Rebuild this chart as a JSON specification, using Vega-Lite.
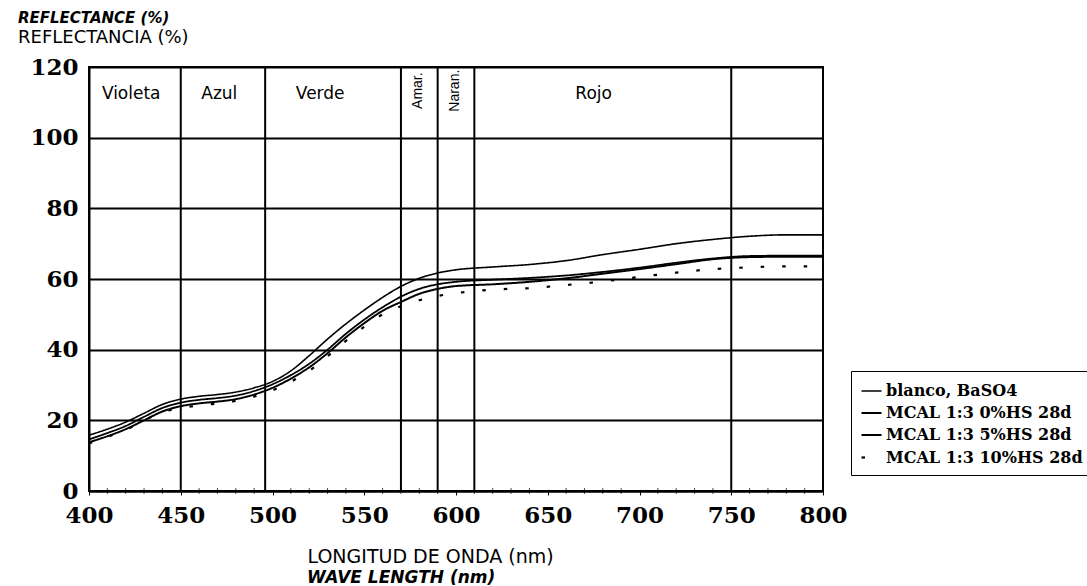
{
  "$schema": "https://vega.github.io/schema/vega-lite/v6.json",
  "width": 734,
  "height": 424,
  "autosize": {"type": "none"},
  "padding": {"left": 89, "top": 67, "right": 264, "bottom": 95},
  "background": "white",
  "title": {
    "text": "REFLECTANCE (%)",
    "subtitle": "REFLECTANCIA (%)",
    "anchor": "start",
    "frame": "group",
    "dx": -71,
    "offset": 9,
    "font": "DejaVu Sans",
    "fontSize": 15,
    "fontWeight": "bold",
    "fontStyle": "italic",
    "color": "black",
    "subtitleFont": "DejaVu Sans",
    "subtitleFontSize": 18,
    "subtitleColor": "black",
    "subtitlePadding": 3
  },
  "config": {
    "view": {"stroke": "black", "strokeWidth": 2},
    "axis": {
      "labelFont": "DejaVu Serif",
      "labelFontWeight": "bold",
      "labelFontSize": 23,
      "labelColor": "black",
      "domainColor": "black",
      "domainWidth": 2,
      "tickColor": "black",
      "gridColor": "black",
      "gridWidth": 2,
      "gridOpacity": 1
    }
  },
  "layer": [
    {
      "data": {"values": [{"nm": 450}, {"nm": 496}, {"nm": 570}, {"nm": 590}, {"nm": 610}, {"nm": 750}]},
      "mark": {"type": "rule", "color": "black", "strokeWidth": 2},
      "encoding": {
        "x": {"field": "nm", "type": "quantitative", "scale": {"domain": [400, 800]}}
      }
    },
    {
      "data": {"values": [
        {"nm": 410}, {"nm": 420}, {"nm": 430}, {"nm": 440}, {"nm": 460}, {"nm": 470}, {"nm": 480}, {"nm": 490},
        {"nm": 510}, {"nm": 520}, {"nm": 530}, {"nm": 540}, {"nm": 560}, {"nm": 570}, {"nm": 580}, {"nm": 590},
        {"nm": 610}, {"nm": 620}, {"nm": 630}, {"nm": 640}, {"nm": 660}, {"nm": 670}, {"nm": 680}, {"nm": 690},
        {"nm": 710}, {"nm": 720}, {"nm": 730}, {"nm": 740}, {"nm": 760}, {"nm": 770}, {"nm": 780}, {"nm": 790}
      ]},
      "mark": {"type": "tick", "color": "black", "orient": "vertical", "size": 6, "thickness": 1},
      "encoding": {
        "x": {"field": "nm", "type": "quantitative", "scale": {"domain": [400, 800]}},
        "y": {"datum": 0, "type": "quantitative", "scale": {"domain": [0, 120]}}
      }
    },
    {
      "data": {"values": [
        {"band": "Violeta", "nm": 423},
        {"band": "Azul", "nm": 471},
        {"band": "Verde", "nm": 526},
        {"band": "Rojo", "nm": 675}
      ]},
      "mark": {"type": "text", "font": "DejaVu Sans", "fontSize": 17, "color": "black", "baseline": "middle", "align": "center"},
      "encoding": {
        "x": {"field": "nm", "type": "quantitative", "scale": {"domain": [400, 800]}},
        "y": {"datum": 112.4, "type": "quantitative", "scale": {"domain": [0, 120]}},
        "text": {"field": "band"}
      }
    },
    {
      "data": {"values": [
        {"band": "Amar.", "nm": 579.5},
        {"band": "Naran.", "nm": 599.5}
      ]},
      "mark": {"type": "text", "font": "Liberation Sans", "fontSize": 14, "color": "black", "baseline": "middle", "align": "center", "angle": 270},
      "encoding": {
        "x": {"field": "nm", "type": "quantitative", "scale": {"domain": [400, 800]}},
        "y": {"datum": 113.3, "type": "quantitative", "scale": {"domain": [0, 120]}},
        "text": {"field": "band"}
      }
    },
    {
      "data": {"values": [
        {"series": "blanco, BaSO4", "nm": 400, "r": 15.8},
        {"series": "blanco, BaSO4", "nm": 410, "r": 17.5},
        {"series": "blanco, BaSO4", "nm": 420, "r": 19.5},
        {"series": "blanco, BaSO4", "nm": 430, "r": 22},
        {"series": "blanco, BaSO4", "nm": 440, "r": 24.5},
        {"series": "blanco, BaSO4", "nm": 450, "r": 26},
        {"series": "blanco, BaSO4", "nm": 460, "r": 26.8},
        {"series": "blanco, BaSO4", "nm": 470, "r": 27.3},
        {"series": "blanco, BaSO4", "nm": 480, "r": 28},
        {"series": "blanco, BaSO4", "nm": 490, "r": 29.2},
        {"series": "blanco, BaSO4", "nm": 500, "r": 31},
        {"series": "blanco, BaSO4", "nm": 510, "r": 34},
        {"series": "blanco, BaSO4", "nm": 520, "r": 38.3},
        {"series": "blanco, BaSO4", "nm": 530, "r": 43},
        {"series": "blanco, BaSO4", "nm": 540, "r": 47.3},
        {"series": "blanco, BaSO4", "nm": 550, "r": 51.2},
        {"series": "blanco, BaSO4", "nm": 560, "r": 54.8},
        {"series": "blanco, BaSO4", "nm": 570, "r": 57.9},
        {"series": "blanco, BaSO4", "nm": 580, "r": 60.2},
        {"series": "blanco, BaSO4", "nm": 590, "r": 61.7},
        {"series": "blanco, BaSO4", "nm": 600, "r": 62.6},
        {"series": "blanco, BaSO4", "nm": 620, "r": 63.4},
        {"series": "blanco, BaSO4", "nm": 640, "r": 64.1},
        {"series": "blanco, BaSO4", "nm": 660, "r": 65.2},
        {"series": "blanco, BaSO4", "nm": 680, "r": 66.9},
        {"series": "blanco, BaSO4", "nm": 700, "r": 68.4},
        {"series": "blanco, BaSO4", "nm": 720, "r": 70},
        {"series": "blanco, BaSO4", "nm": 740, "r": 71.2},
        {"series": "blanco, BaSO4", "nm": 760, "r": 72.1},
        {"series": "blanco, BaSO4", "nm": 780, "r": 72.5},
        {"series": "blanco, BaSO4", "nm": 800, "r": 72.5},
        {"series": "MCAL 1:3 0%HS 28d", "nm": 400, "r": 14.6},
        {"series": "MCAL 1:3 0%HS 28d", "nm": 410, "r": 16.4},
        {"series": "MCAL 1:3 0%HS 28d", "nm": 420, "r": 18.4},
        {"series": "MCAL 1:3 0%HS 28d", "nm": 430, "r": 21},
        {"series": "MCAL 1:3 0%HS 28d", "nm": 440, "r": 23.5},
        {"series": "MCAL 1:3 0%HS 28d", "nm": 450, "r": 25},
        {"series": "MCAL 1:3 0%HS 28d", "nm": 460, "r": 25.8},
        {"series": "MCAL 1:3 0%HS 28d", "nm": 470, "r": 26.3},
        {"series": "MCAL 1:3 0%HS 28d", "nm": 480, "r": 27},
        {"series": "MCAL 1:3 0%HS 28d", "nm": 490, "r": 28.3},
        {"series": "MCAL 1:3 0%HS 28d", "nm": 500, "r": 30.2},
        {"series": "MCAL 1:3 0%HS 28d", "nm": 510, "r": 32.8},
        {"series": "MCAL 1:3 0%HS 28d", "nm": 520, "r": 36},
        {"series": "MCAL 1:3 0%HS 28d", "nm": 530, "r": 40},
        {"series": "MCAL 1:3 0%HS 28d", "nm": 540, "r": 44.5},
        {"series": "MCAL 1:3 0%HS 28d", "nm": 550, "r": 48.5},
        {"series": "MCAL 1:3 0%HS 28d", "nm": 560, "r": 52},
        {"series": "MCAL 1:3 0%HS 28d", "nm": 570, "r": 55},
        {"series": "MCAL 1:3 0%HS 28d", "nm": 580, "r": 57.2},
        {"series": "MCAL 1:3 0%HS 28d", "nm": 590, "r": 58.5},
        {"series": "MCAL 1:3 0%HS 28d", "nm": 600, "r": 59.2},
        {"series": "MCAL 1:3 0%HS 28d", "nm": 620, "r": 59.8},
        {"series": "MCAL 1:3 0%HS 28d", "nm": 640, "r": 60.3},
        {"series": "MCAL 1:3 0%HS 28d", "nm": 660, "r": 61},
        {"series": "MCAL 1:3 0%HS 28d", "nm": 680, "r": 62},
        {"series": "MCAL 1:3 0%HS 28d", "nm": 700, "r": 63.2},
        {"series": "MCAL 1:3 0%HS 28d", "nm": 720, "r": 64.6},
        {"series": "MCAL 1:3 0%HS 28d", "nm": 740, "r": 65.8},
        {"series": "MCAL 1:3 0%HS 28d", "nm": 760, "r": 66.5},
        {"series": "MCAL 1:3 0%HS 28d", "nm": 780, "r": 66.6},
        {"series": "MCAL 1:3 0%HS 28d", "nm": 800, "r": 66.6},
        {"series": "MCAL 1:3 5%HS 28d", "nm": 400, "r": 13.8},
        {"series": "MCAL 1:3 5%HS 28d", "nm": 410, "r": 15.5},
        {"series": "MCAL 1:3 5%HS 28d", "nm": 420, "r": 17.5},
        {"series": "MCAL 1:3 5%HS 28d", "nm": 430, "r": 20},
        {"series": "MCAL 1:3 5%HS 28d", "nm": 440, "r": 22.5},
        {"series": "MCAL 1:3 5%HS 28d", "nm": 450, "r": 24},
        {"series": "MCAL 1:3 5%HS 28d", "nm": 460, "r": 24.8},
        {"series": "MCAL 1:3 5%HS 28d", "nm": 470, "r": 25.3},
        {"series": "MCAL 1:3 5%HS 28d", "nm": 480, "r": 26},
        {"series": "MCAL 1:3 5%HS 28d", "nm": 490, "r": 27.3},
        {"series": "MCAL 1:3 5%HS 28d", "nm": 500, "r": 29.2},
        {"series": "MCAL 1:3 5%HS 28d", "nm": 510, "r": 31.8},
        {"series": "MCAL 1:3 5%HS 28d", "nm": 520, "r": 35},
        {"series": "MCAL 1:3 5%HS 28d", "nm": 530, "r": 39},
        {"series": "MCAL 1:3 5%HS 28d", "nm": 540, "r": 43.5},
        {"series": "MCAL 1:3 5%HS 28d", "nm": 550, "r": 47.5},
        {"series": "MCAL 1:3 5%HS 28d", "nm": 560, "r": 51},
        {"series": "MCAL 1:3 5%HS 28d", "nm": 570, "r": 53.5},
        {"series": "MCAL 1:3 5%HS 28d", "nm": 580, "r": 55.8},
        {"series": "MCAL 1:3 5%HS 28d", "nm": 590, "r": 57.2},
        {"series": "MCAL 1:3 5%HS 28d", "nm": 600, "r": 58},
        {"series": "MCAL 1:3 5%HS 28d", "nm": 620, "r": 58.5},
        {"series": "MCAL 1:3 5%HS 28d", "nm": 640, "r": 59.2},
        {"series": "MCAL 1:3 5%HS 28d", "nm": 660, "r": 60.2},
        {"series": "MCAL 1:3 5%HS 28d", "nm": 680, "r": 61.5},
        {"series": "MCAL 1:3 5%HS 28d", "nm": 700, "r": 62.8},
        {"series": "MCAL 1:3 5%HS 28d", "nm": 720, "r": 64.2},
        {"series": "MCAL 1:3 5%HS 28d", "nm": 740, "r": 65.6},
        {"series": "MCAL 1:3 5%HS 28d", "nm": 760, "r": 66.2},
        {"series": "MCAL 1:3 5%HS 28d", "nm": 780, "r": 66.3},
        {"series": "MCAL 1:3 5%HS 28d", "nm": 800, "r": 66.3},
        {"series": "MCAL 1:3 10%HS 28d", "nm": 400, "r": 13.5},
        {"series": "MCAL 1:3 10%HS 28d", "nm": 420, "r": 17.3},
        {"series": "MCAL 1:3 10%HS 28d", "nm": 440, "r": 22.3},
        {"series": "MCAL 1:3 10%HS 28d", "nm": 450, "r": 23.5},
        {"series": "MCAL 1:3 10%HS 28d", "nm": 460, "r": 24.2},
        {"series": "MCAL 1:3 10%HS 28d", "nm": 480, "r": 25.5},
        {"series": "MCAL 1:3 10%HS 28d", "nm": 500, "r": 28.5},
        {"series": "MCAL 1:3 10%HS 28d", "nm": 520, "r": 34},
        {"series": "MCAL 1:3 10%HS 28d", "nm": 540, "r": 42.5},
        {"series": "MCAL 1:3 10%HS 28d", "nm": 550, "r": 46.5},
        {"series": "MCAL 1:3 10%HS 28d", "nm": 560, "r": 50},
        {"series": "MCAL 1:3 10%HS 28d", "nm": 570, "r": 52.3},
        {"series": "MCAL 1:3 10%HS 28d", "nm": 580, "r": 54},
        {"series": "MCAL 1:3 10%HS 28d", "nm": 590, "r": 55.2},
        {"series": "MCAL 1:3 10%HS 28d", "nm": 600, "r": 56},
        {"series": "MCAL 1:3 10%HS 28d", "nm": 620, "r": 57},
        {"series": "MCAL 1:3 10%HS 28d", "nm": 640, "r": 57.4},
        {"series": "MCAL 1:3 10%HS 28d", "nm": 660, "r": 58.3},
        {"series": "MCAL 1:3 10%HS 28d", "nm": 680, "r": 59.3},
        {"series": "MCAL 1:3 10%HS 28d", "nm": 700, "r": 60.6},
        {"series": "MCAL 1:3 10%HS 28d", "nm": 720, "r": 61.8},
        {"series": "MCAL 1:3 10%HS 28d", "nm": 740, "r": 62.8},
        {"series": "MCAL 1:3 10%HS 28d", "nm": 760, "r": 63.3},
        {"series": "MCAL 1:3 10%HS 28d", "nm": 780, "r": 63.6},
        {"series": "MCAL 1:3 10%HS 28d", "nm": 800, "r": 63.6}
      ]},
      "mark": {"type": "line", "color": "black", "interpolate": "monotone", "strokeCap": "butt"},
      "encoding": {
        "x": {
          "field": "nm", "type": "quantitative",
          "scale": {"domain": [400, 800]},
          "axis": {
            "values": [400, 450, 500, 550, 600, 650, 700, 750, 800],
            "labelOverlap": false,
            "tickSize": 4,
            "tickWidth": 1,
            "labelPadding": 9,
            "labelFlush": false,
            "grid": false,
            "title": "LONGITUD DE ONDA (nm)",
            "titleFont": "DejaVu Sans",
            "titleFontSize": 19,
            "titleFontWeight": "normal",
            "titleColor": "black",
            "titleAnchor": "start",
            "titleAlign": "left",
            "titleX": 218,
            "titleY": 71,
            "titleBaseline": "alphabetic"
          }
        },
        "y": {
          "field": "r", "type": "quantitative",
          "scale": {"domain": [0, 120]},
          "axis": {
            "values": [0, 20, 40, 60, 80, 100, 120],
            "grid": true,
            "tickSize": 0,
            "labelPadding": 11,
            "labelBaseline": "middle",
            "labelFlush": false,
            "domain": true,
            "title": null
          }
        },
        "strokeWidth": {
          "field": "series", "type": "nominal",
          "scale": {
            "domain": ["blanco, BaSO4", "MCAL 1:3 0%HS 28d", "MCAL 1:3 5%HS 28d", "MCAL 1:3 10%HS 28d"],
            "range": [1.6, 2.2, 3.6, 3.6]
          },
          "legend": {
            "title": null,
            "orient": "none",
            "legendX": 762,
            "legendY": 304,
            "strokeColor": "black",
            "padding": 9,
            "labelFont": "DejaVu Serif",
            "labelFontWeight": "bold",
            "labelFontSize": 16,
            "labelColor": "black",
            "labelLimit": 400,
            "symbolType": "stroke",
            "symbolSize": 400,
            "symbolStrokeColor": "black",
            "rowPadding": 3,
            "labelOffset": 3
          }
        },
        "strokeDash": {
          "field": "series", "type": "nominal",
          "scale": {
            "domain": ["blanco, BaSO4", "MCAL 1:3 0%HS 28d", "MCAL 1:3 5%HS 28d", "MCAL 1:3 10%HS 28d"],
            "range": [[1, 0], [1, 0], [1, 0], [3.5, 18]]
          },
          "legend": {
            "title": null,
            "orient": "none",
            "legendX": 762,
            "legendY": 304
          }
        }
      }
    },
    {
      "data": {"values": [{"label": "WAVE LENGTH (nm)"}]},
      "mark": {"type": "text", "font": "DejaVu Sans", "fontSize": 17, "fontWeight": "bold", "fontStyle": "italic", "color": "black", "align": "left", "baseline": "alphabetic"},
      "encoding": {
        "x": {"datum": 518.8, "type": "quantitative", "scale": {"domain": [400, 800]}},
        "y": {"datum": -25.9, "type": "quantitative", "scale": {"domain": [0, 120]}},
        "text": {"field": "label"}
      }
    }
  ]
}
